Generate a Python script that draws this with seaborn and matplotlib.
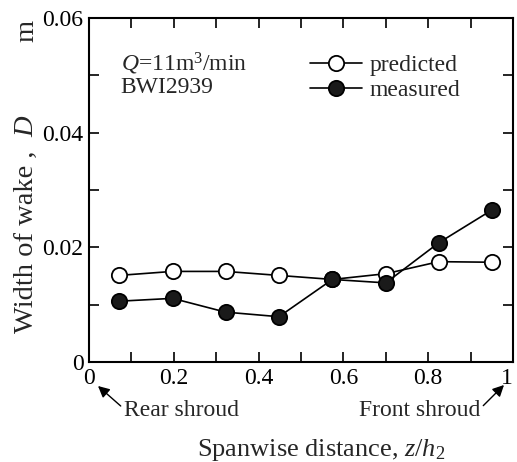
import matplotlib
matplotlib.use("Agg")
import matplotlib.pyplot as plt
import seaborn as sns
import numpy as np
from matplotlib.ticker import MultipleLocator
from matplotlib.lines import Line2D

sns.set_theme(style="ticks")
plt.rcParams['font.family'] = ['Liberation Serif', 'DejaVu Serif']
plt.rcParams['mathtext.fontset'] = 'custom'
plt.rcParams['mathtext.rm'] = 'Liberation Serif'
plt.rcParams['mathtext.it'] = 'Liberation Serif:italic'

z = [0.07, 0.197, 0.322, 0.448, 0.574, 0.70, 0.825, 0.95]
predicted = [0.0151, 0.0158, 0.0158, 0.0151, 0.0144, 0.0154, 0.0175, 0.0174]
measured = [0.0106, 0.0111, 0.0087, 0.0079, 0.0144, 0.0138, 0.0208, 0.0265]
xtick_vals = [0, 0.2, 0.4, 0.6, 0.8, 1.0]
xtick_labels = ['0', '0.2', '0.4', '0.6', '0.8', '1']
ytick_vals = [0, 0.02, 0.04, 0.06]
ytick_labels = ['0', '0.02', '0.04', '0.06']

fig = plt.figure(figsize=(5.17, 4.62), dpi=100)
ax = fig.add_axes([89/517, 1-362/462, (513-89)/517, (362-18)/462])

sns.lineplot(x=z, y=predicted, ax=ax, color='black', lw=1.2, marker='o',
             markersize=11, markerfacecolor='white', markeredgecolor='black',
             markeredgewidth=1.3, zorder=3)
sns.lineplot(x=z, y=measured, ax=ax, color='black', lw=1.2, marker='o',
             markersize=11, markerfacecolor='#1a1a1a', markeredgecolor='black',
             markeredgewidth=1.3, zorder=4)

ax.set_xlim(0, 1)
ax.set_ylim(0, 0.06)
ax.xaxis.set_minor_locator(MultipleLocator(0.1))
ax.yaxis.set_minor_locator(MultipleLocator(0.01))
ax.set_xticks(xtick_vals)
ax.set_xticklabels(xtick_labels)
ax.set_yticks(ytick_vals)
ax.set_yticklabels(ytick_labels)
ax.tick_params(which='both', direction='in', top=True, right=True, width=1.2, labelsize=17, colors='black')
ax.tick_params(which='major', length=7, pad=4)
ax.tick_params(which='minor', length=7)
ax.get_xticklabels()[-1].set_ha('right')
for s in ax.spines.values():
    s.set_linewidth(1.5)
    s.set_color('black')

ax.set_xlabel('Spanwise distance, $z/h_2$', fontsize=19, va='top')
ax.xaxis.set_label_coords((321-89)/424, (362-437)/344)
ax.set_ylabel('')

ylab_kw = dict(rotation=90, rotation_mode='anchor', ha='left', va='baseline', fontsize=20.5)
fig.text(33/517, 1-333/462, 'Width of wake ,', **ylab_kw)
fig.text(33/517, 1-137/462, '$D$', **ylab_kw)
fig.text(33/517, 1-42/462, 'm', **ylab_kw)

ax.text(0.075, 0.866, '$Q$=11m$^3$/min', transform=ax.transAxes, fontsize=17, va='center')
ax.text(0.075, 0.797, 'BWI2939', transform=ax.transAxes, fontsize=17, va='center')

handles = [Line2D([], [], color='black', lw=1.2, marker='o', markersize=11,
                  markerfacecolor='white', markeredgecolor='black', markeredgewidth=1.3),
           Line2D([], [], color='black', lw=1.2, marker='o', markersize=11,
                  markerfacecolor='#1a1a1a', markeredgecolor='black', markeredgewidth=1.3)]
ax.legend(handles, ['predicted', 'measured'], loc='upper left', bbox_to_anchor=(0.5, 0.922),
          frameon=False, fontsize=17, handlelength=2.2, handletextpad=0.3, labelspacing=0.15,
          borderaxespad=0)

ax.annotate('Rear shroud', xy=(98/517, 1-386/462), xycoords='figure fraction',
            xytext=(124/517, 1-411/462), textcoords='figure fraction',
            fontsize=17, va='center', ha='left',
            arrowprops=dict(arrowstyle='-|>', color='black', lw=1.0, shrinkA=0, shrinkB=0,
                            relpos=(0, 0.6)))
ax.annotate('Front shroud', xy=(504/517, 1-385/462), xycoords='figure fraction',
            xytext=(480/517, 1-411/462), textcoords='figure fraction',
            fontsize=17, va='center', ha='right',
            arrowprops=dict(arrowstyle='-|>', color='black', lw=1.0, shrinkA=0, shrinkB=0,
                            relpos=(1, 0.6)))

fig.savefig('out.png', dpi=100)
